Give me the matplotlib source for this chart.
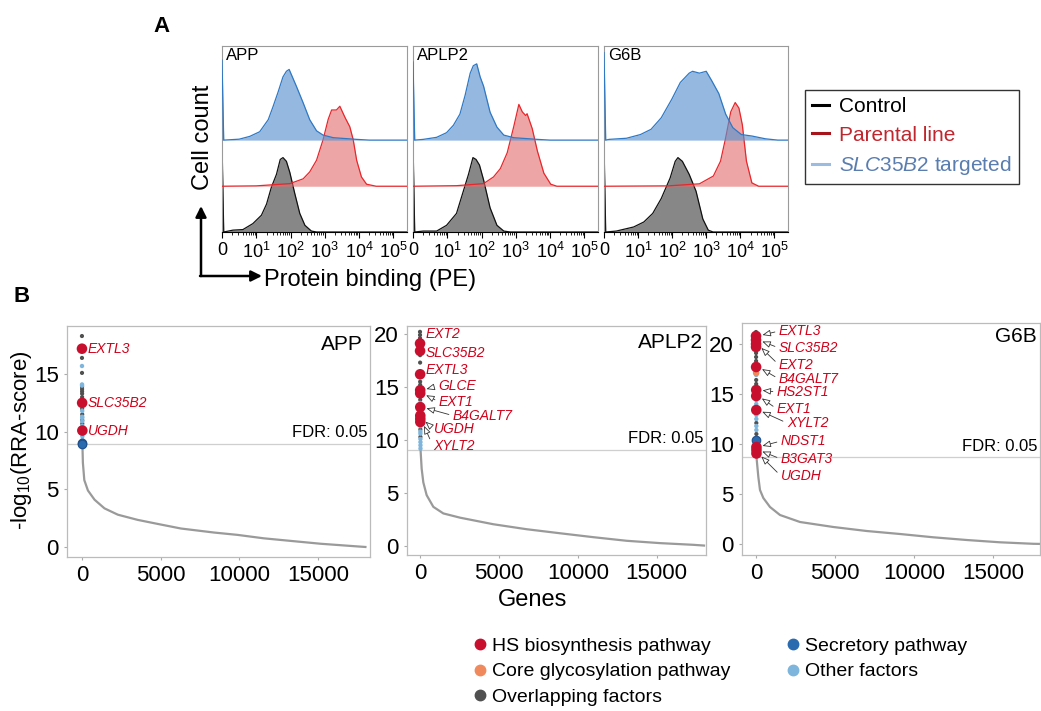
import numpy as np
import matplotlib
matplotlib.use("Agg")
import matplotlib.pyplot as plt
from matplotlib.lines import Line2D
from matplotlib.patches import FancyArrowPatch

plt.rcParams['font.family'] = ['Liberation Sans', 'DejaVu Sans']
plt.rcParams['mathtext.fontset'] = 'custom'
plt.rcParams['mathtext.rm'] = 'Liberation Sans'
plt.rcParams['mathtext.it'] = 'Liberation Sans:italic'
plt.rcParams['mathtext.bf'] = 'Liberation Sans:bold'

# ---------------- panel A data (x in decades, 0 = zero bin; height as fraction of panel)
app_ctrl_x = [0, 0.05, 0.32, 0.61, 0.9, 1.15, 1.3, 1.44, 1.59, 1.7, 1.78, 1.88, 1.98, 2.12, 2.27, 2.42, 2.61, 2.76, 5.4]
app_ctrl_h = [0.48, 0.0, 0.01, 0.013, 0.045, 0.09, 0.15, 0.24, 0.31, 0.39, 0.4, 0.38, 0.32, 0.21, 0.1, 0.036, 0.005, 0, 0]
app_par_x = [0, 1.0, 1.98, 2.37, 2.56, 2.76, 2.95, 3.1, 3.2, 3.34, 3.44, 3.59, 3.73, 3.83, 3.93, 4.07, 4.22, 4.5, 5.4]
app_par_h = [0, 0.002, 0.014, 0.04, 0.077, 0.14, 0.25, 0.36, 0.41, 0.41, 0.43, 0.37, 0.32, 0.25, 0.14, 0.05, 0.011, 0, 0]
app_slc_x = [0, 0.05, 0.5, 0.81, 1.1, 1.35, 1.49, 1.64, 1.78, 1.88, 1.96, 2.03, 2.17, 2.37, 2.56, 2.76, 2.95, 3.25, 3.93, 4.3, 5.4]
app_slc_h = [0.43, 0.0, 0.005, 0.02, 0.045, 0.11, 0.18, 0.26, 0.34, 0.37, 0.38, 0.35, 0.29, 0.2, 0.11, 0.05, 0.027, 0.013, 0.004, 0, 0]

aplp2_ctrl_x = [0, 0.05, 0.3, 0.69, 0.98, 1.27, 1.47, 1.62, 1.75, 1.84, 1.94, 2.06, 2.25, 2.45, 2.65, 2.84, 5.4]
aplp2_ctrl_h = [0.48, 0, 0.005, 0.005, 0.036, 0.1, 0.22, 0.31, 0.4, 0.39, 0.36, 0.28, 0.13, 0.036, 0.005, 0, 0]
aplp2_par_x = [0, 1.27, 2.06, 2.35, 2.55, 2.75, 2.94, 3.09, 3.19, 3.29, 3.33, 3.48, 3.63, 3.82, 4.02, 4.2, 5.4]
aplp2_par_h = [0, 0.003, 0.014, 0.05, 0.095, 0.18, 0.32, 0.44, 0.4, 0.38, 0.39, 0.31, 0.19, 0.07, 0.011, 0, 0]
aplp2_slc_x = [0, 0.05, 0.3, 0.69, 0.98, 1.18, 1.37, 1.52, 1.67, 1.76, 1.86, 1.96, 2.06, 2.25, 2.45, 2.65, 2.94, 3.63, 4.0, 5.4]
aplp2_slc_h = [0.42, 0, 0.004, 0.015, 0.04, 0.08, 0.14, 0.24, 0.36, 0.4, 0.41, 0.34, 0.29, 0.15, 0.07, 0.027, 0.013, 0.004, 0, 0]

g6b_ctrl_x = [0, 0.05, 0.36, 0.87, 1.17, 1.43, 1.68, 1.94, 2.09, 2.17, 2.3, 2.5, 2.7, 2.9, 3.06, 3.2, 5.4]
g6b_ctrl_h = [0.47, 0, 0.005, 0.027, 0.054, 0.1, 0.18, 0.29, 0.38, 0.4, 0.38, 0.31, 0.22, 0.07, 0.01, 0, 0]
g6b_par_x = [0, 1.89, 2.8, 3.21, 3.42, 3.57, 3.72, 3.85, 3.96, 4.06, 4.18, 4.34, 4.54, 5.4]
g6b_par_h = [0, 0.002, 0.013, 0.055, 0.135, 0.26, 0.4, 0.45, 0.42, 0.33, 0.135, 0.018, 0, 0]
g6b_slc_x = [0, 0.05, 0.15, 0.66, 1.07, 1.38, 1.68, 1.99, 2.24, 2.5, 2.6, 2.8, 3.0, 3.16, 3.37, 3.57, 3.78, 4.03, 4.34, 4.74, 5.1, 5.4]
g6b_slc_h = [0.47, 0, 0.004, 0.01, 0.03, 0.058, 0.12, 0.22, 0.31, 0.36, 0.37, 0.36, 0.37, 0.32, 0.25, 0.14, 0.067, 0.03, 0.022, 0.007, 0, 0]

hist_names = ['APP', 'APLP2', 'G6B']
decade_labels = ['0', '$10^{1}$', '$10^{2}$', '$10^{3}$', '$10^{4}$', '$10^{5}$']

# ---------------- panel B data
app_scores = [18.3, 17.2, 16.4, 15.7, 15.1, 14.1, 14.0, 13.9, 13.7, 13.5, 13.3, 13.0, 12.7, 12.5, 12.2, 12.0,
              11.8, 11.5, 11.3, 11.2, 11.0, 10.9, 10.7, 10.5, 10.3, 10.1, 9.8, 9.6, 9.3, 9.0, 8.95]
app_cats = ['over', 'hs', 'over', 'other', 'over', 'other', 'other', 'over', 'over', 'over', 'over', 'over', 'over', 'hs', 'other', 'over',
            'other', 'over', 'other', 'other', 'over', 'other', 'over', 'other', 'over', 'hs', 'other', 'other', 'other', 'sec', 'sec']
app_curve_rank = [30, 60, 150, 380, 800, 1430, 2280, 3540, 4810, 6290, 8400, 9870, 11550, 13460, 15150, 17470, 18000]
app_curve_val = [8.9, 7.3, 5.8, 4.9, 4.1, 3.35, 2.8, 2.35, 2.0, 1.6, 1.25, 1.05, 0.75, 0.5, 0.28, 0.05, 0.0]

aplp2_scores = [20.2, 19.9, 19.6, 19.1, 18.8, 18.4, 18.0, 17.3, 16.2, 15.5, 15.2, 14.9, 14.7, 14.4, 13.8, 13.5, 13.1,
                12.8, 12.3, 12.0, 11.7, 11.5, 11.3, 11.0, 10.8, 10.6, 10.3, 10.1, 9.8, 9.5, 9.2]
aplp2_cats = ['over', 'over', 'over', 'hs', 'over', 'hs', 'over', 'over', 'hs', 'over', 'over', 'over', 'hs', 'hs', 'over', 'other', 'hs',
              'over', 'hs', 'hs', 'hs', 'other', 'other', 'over', 'other', 'other', 'over', 'other', 'other', 'other', 'other']
aplp2_curve_rank = [30, 105, 211, 422, 845, 1478, 2535, 4647, 6760, 8872, 10985, 13097, 15210, 17322, 18000]
aplp2_curve_val = [9.2, 7.3, 6.0, 4.8, 3.7, 3.08, 2.68, 2.06, 1.59, 1.21, 0.84, 0.5, 0.28, 0.12, 0.05]

g6b_scores = [21.2, 20.8, 20.4, 20.0, 19.7, 19.1, 18.7, 18.3, 17.7, 17.1, 16.9, 16.4, 16.0, 15.4, 14.8, 14.4, 14.0,
              13.7, 13.4, 12.9, 12.5, 12.1, 11.8, 11.4, 11.0, 10.4, 10.0, 9.7, 9.4, 9.05]
g6b_cats = ['over', 'hs', 'hs', 'hs', 'hs', 'over', 'over', 'over', 'hs', 'core', 'other', 'over', 'over', 'hs', 'hs', 'other', 'other',
            'over', 'hs', 'other', 'other', 'over', 'other', 'other', 'over', 'sec', 'other', 'hs', 'hs', 'hs']
g6b_curve_rank = [30, 148, 253, 464, 886, 1519, 2785, 4895, 7004, 9114, 11224, 13333, 15443, 17553, 18300]
g6b_curve_val = [8.7, 6.7, 5.4, 4.6, 3.7, 2.9, 2.2, 1.7, 1.3, 1.0, 0.67, 0.4, 0.17, 0.02, 0.0]

fdr_levels = [8.93, 9.1, 8.7]

# label, text x (rank), text y, arrow target score (None = no arrow)
app_labels = [('EXTL3', 380, 17.2, None), ('SLC35B2', 380, 12.5, None), ('UGDH', 380, 10.1, None)]
aplp2_labels = [('EXT2', 360, 20.0, None), ('SLC35B2', 360, 18.2, None), ('EXTL3', 360, 16.6, None),
                ('GLCE', 1140, 15.1, 14.7), ('EXT1', 1200, 13.6, 14.4), ('B4GALT7', 2090, 12.3, 13.1),
                ('UGDH', 886, 11.0, 12.0), ('XYLT2', 830, 9.4, 11.7)]
g6b_labels = [('EXTL3', 1456, 21.3, 20.8), ('SLC35B2', 1456, 19.6, 20.4), ('EXT2', 1456, 17.9, 19.9),
              ('B4GALT7', 1456, 16.5, 17.7), ('HS2ST1', 1330, 15.2, 15.4), ('EXT1', 1330, 13.5, 14.8),
              ('XYLT2', 1960, 12.1, 13.4), ('NDST1', 1580, 10.3, 9.7), ('B3GAT3', 1580, 8.5, 9.4),
              ('UGDH', 1580, 6.8, 9.05)]

cat_order = ['hs', 'core', 'over', 'sec', 'other']
cat_names = ['HS biosynthesis pathway', 'Core glycosylation pathway', 'Overlapping factors',
             'Secretory pathway', 'Other factors']
cat_colors = {'hs': '#c8102e', 'core': '#f08a5d', 'over': '#505050', 'sec': '#2a6bb0', 'other': '#7db5dc'}
cat_sizes = {'hs': 58, 'core': 22, 'over': 9, 'sec': 38, 'other': 10}
cat_z = {'hs': 5, 'core': 4, 'over': 3, 'sec': 4, 'other': 3}

W, H = 1041, 711
fig = plt.figure(figsize=(W / 100, H / 100), dpi=100)


def box(l, t, r, b):
    return [l / W, 1 - b / H, (r - l) / W, (b - t) / H]


# ================= panel A
hist_boxes = [box(222, 46, 407, 232), box(413, 46, 598, 232), box(604, 46, 788, 232)]
hist_data = [
    (app_ctrl_x, app_ctrl_h, app_par_x, app_par_h, app_slc_x, app_slc_h),
    (aplp2_ctrl_x, aplp2_ctrl_h, aplp2_par_x, aplp2_par_h, aplp2_slc_x, aplp2_slc_h),
    (g6b_ctrl_x, g6b_ctrl_h, g6b_par_x, g6b_par_h, g6b_slc_x, g6b_slc_h),
]
bases = [0.0, 0.246, 0.494]
styles = [('#7a7a7a', '#111111', 0.9), ('#e46a6a', '#e8262b', 0.6), ('#5b93cf', '#2f78c4', 0.65)]

minor = [d + np.log10(k) for d in range(5) for k in range(2, 10)]

for name, rect, dat in zip(hist_names, hist_boxes, hist_data):
    ax = fig.add_axes(rect)
    for i in range(3):
        x = np.array(dat[2 * i])
        h = np.array(dat[2 * i + 1])
        fc, lc, a = styles[i]
        ax.fill_between(x, bases[i], bases[i] + h, color=fc, alpha=a, lw=0, zorder=2 + i)
        ax.plot(x, bases[i] + h, color=lc, lw=0.9, zorder=2 + i)
    ax.set_xlim(0, 5.4)
    ax.set_ylim(0, 1)
    ax.set_yticks([])
    ax.set_xticks(range(6))
    ax.set_xticklabels(decade_labels, fontsize=13)
    ax.set_xticks(minor, minor=True)
    ax.tick_params(axis='x', which='major', length=4, width=0.8, color='black', pad=3)
    ax.tick_params(axis='x', which='minor', length=2.5, width=0.6, color='black')
    for s in ['left', 'top', 'right']:
        ax.spines[s].set_color('#9a9a9a')
        ax.spines[s].set_linewidth(0.8)
    ax.spines['bottom'].set_color('black')
    ax.text(0.02, 0.95, name, transform=ax.transAxes, fontsize=12, ha='left', va='center', zorder=10)

fig.text(162 / W, 1 - 26 / H, 'A', fontsize=16, fontweight='bold', ha='center', va='center')
fig.text(203 / W, 1 - 137 / H, 'Cell count', fontsize=17, rotation=90, ha='center', va='center')
fig.text(264 / W, 1 - 280 / H, 'Protein binding (PE)', fontsize=17, ha='left', va='center')
corner = (201 / W, 1 - 276 / H)
fig.add_artist(FancyArrowPatch(corner, (201 / W, 1 - 206 / H), transform=fig.transFigure,
                               arrowstyle='-|>', mutation_scale=16, lw=1.8, color='black', shrinkA=0, shrinkB=0))
fig.add_artist(FancyArrowPatch((200 / W, 1 - 276 / H), (262 / W, 1 - 276 / H), transform=fig.transFigure,
                               arrowstyle='-|>', mutation_scale=16, lw=1.8, color='black', shrinkA=0, shrinkB=0))

leg_handles = [Line2D([], [], color='black', lw=2.2), Line2D([], [], color='#a8141c', lw=2.2),
               Line2D([], [], color='#9dbbe0', lw=2.2)]
leg_labels = ['Control', 'Parental line', r'$\mathit{SLC35B2}$ targeted']
lega = fig.legend(leg_handles, leg_labels, loc='upper left', bbox_to_anchor=(805 / W, 1 - 90 / H),
                  frameon=True, fancybox=False, edgecolor='black', fontsize=15, handlelength=0.8,
                  handletextpad=0.5, labelspacing=0.45, borderpad=0.35, borderaxespad=0)
lega.get_frame().set_linewidth(1.0)
for t, c in zip(lega.get_texts(), ['black', '#c0262d', '#5a7db0']):
    t.set_color(c)

# ================= panel B
rank_boxes = [box(67, 326, 370, 557), box(407, 326, 706, 555), box(742, 323, 1040, 555)]
rank_xlims = [(-949, 18291), (-824, 18125), (-886, 17975)]
rank_ylims = [(-0.87, 19.17), (-0.84, 20.75), (-1.1, 22.1)]
rank_yticks = [[0, 5, 10, 15], [0, 5, 10, 15, 20], [0, 5, 10, 15, 20]]
title_pos = [(0.977, 0.922), (0.99, 0.926), (0.99, 0.94)]
rank_data = [
    (app_scores, app_cats, app_curve_rank, app_curve_val, app_labels),
    (aplp2_scores, aplp2_cats, aplp2_curve_rank, aplp2_curve_val, aplp2_labels),
    (g6b_scores, g6b_cats, g6b_curve_rank, g6b_curve_val, g6b_labels),
]

for k in range(3):
    scores, cats, crank, cval, labels = rank_data[k]
    ax = fig.add_axes(rank_boxes[k])
    ax.plot(crank, cval, color='#9a9a9a', lw=1.6, zorder=1)
    ax.axhline(fdr_levels[k], color='#cfcfcf', lw=0.9, zorder=0)
    scores = np.array(scores)
    cats = np.array(cats)
    ranks = np.arange(len(scores))
    for c in ['over', 'other', 'core', 'sec', 'hs']:
        m = cats == c
        ec = '#1f4f8a' if c == 'sec' else 'none'
        ax.scatter(ranks[m], scores[m], s=cat_sizes[c], color=cat_colors[c], edgecolors=ec,
                   linewidths=0.8, zorder=cat_z[c])
    for lab, tx, ty, target in labels:
        if target is None:
            ax.text(tx, ty, lab, color='#d0021b', fontsize=10, style='italic', ha='left', va='center', zorder=6)
        else:
            ax.annotate(lab, xy=(150, target), xytext=(tx, ty), color='#d0021b', fontsize=10, style='italic',
                        ha='left', va='center', zorder=6,
                        arrowprops=dict(arrowstyle='-|>,head_length=0.5,head_width=0.2', fc='white', ec='#333333',
                                        lw=0.6, shrinkA=1, shrinkB=3, relpos=(0, 0.5)))
    ax.set_xlim(*rank_xlims[k])
    ax.set_ylim(*rank_ylims[k])
    ax.set_xticks([0, 5000, 10000, 15000])
    ax.set_yticks(rank_yticks[k])
    ax.tick_params(labelsize=16, length=2, color='#aaaaaa', pad=4)
    for s in ax.spines.values():
        s.set_color('#bbbbbb')
        s.set_linewidth(0.9)
    ax.text(title_pos[k][0], title_pos[k][1], hist_names[k], transform=ax.transAxes, fontsize=15,
            ha='right', va='center')
    ax.text(0.993 if k == 0 else 0.99, fdr_levels[k] + 0.35, 'FDR: 0.05', transform=ax.get_yaxis_transform(),
            fontsize=12, ha='right', va='bottom')

fig.text(22 / W, 1 - 297 / H, 'B', fontsize=16, fontweight='bold', ha='center', va='center')
fig.text(22 / W, 1 - 440 / H, r'-log$_{10}$(RRA-score)', fontsize=16, rotation=90, ha='center', va='center')
fig.text(533 / W, 1 - 600 / H, 'Genes', fontsize=17, ha='center', va='center')

legb_handles = [Line2D([], [], marker='o', ls='', color=cat_colors[c], markersize=7.5) for c in cat_order]
legb = fig.legend(legb_handles, cat_names, loc='upper left', bbox_to_anchor=(475 / W, 1 - 637 / H), ncol=2,
                  frameon=False, fontsize=14, handlelength=0.5, handletextpad=0.35, labelspacing=0.42,
                  columnspacing=3.0, borderpad=0, borderaxespad=0)

fig.savefig('out.png', dpi=100)
